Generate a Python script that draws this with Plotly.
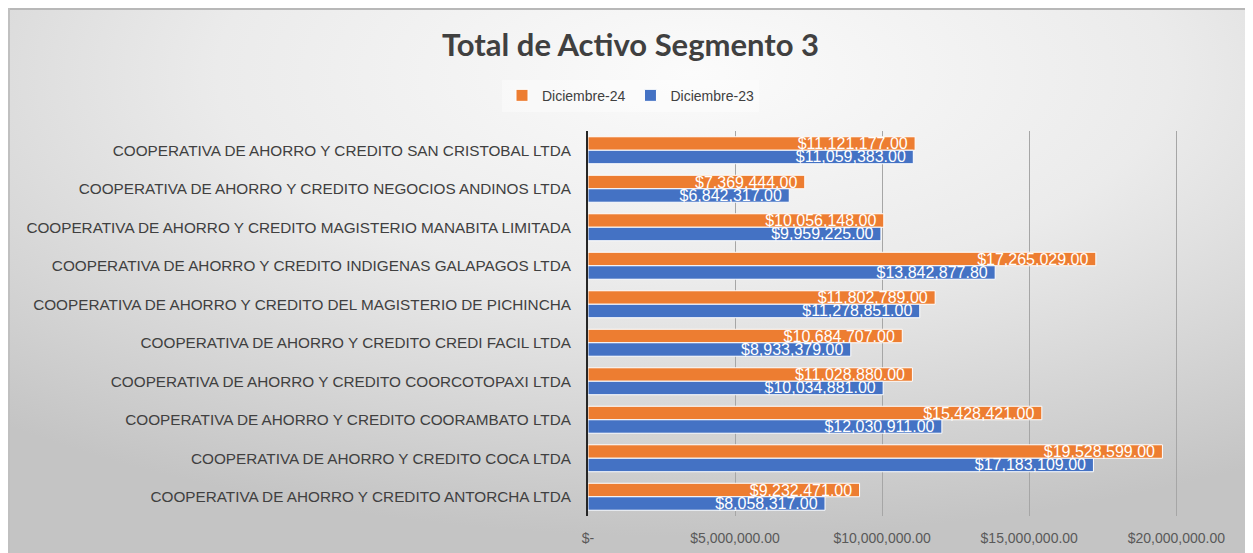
import base64
import plotly.graph_objects as go

categories = [
    "COOPERATIVA DE AHORRO Y CREDITO SAN CRISTOBAL LTDA",
    "COOPERATIVA DE AHORRO Y CREDITO NEGOCIOS ANDINOS LTDA",
    "COOPERATIVA DE AHORRO Y CREDITO MAGISTERIO MANABITA LIMITADA",
    "COOPERATIVA DE AHORRO Y CREDITO INDIGENAS GALAPAGOS LTDA",
    "COOPERATIVA DE AHORRO Y CREDITO DEL MAGISTERIO DE PICHINCHA",
    "COOPERATIVA DE AHORRO Y CREDITO CREDI FACIL LTDA",
    "COOPERATIVA DE AHORRO Y CREDITO COORCOTOPAXI LTDA",
    "COOPERATIVA DE AHORRO Y CREDITO COORAMBATO LTDA",
    "COOPERATIVA DE AHORRO Y CREDITO COCA LTDA",
    "COOPERATIVA DE AHORRO Y CREDITO ANTORCHA LTDA",
]
dic24 = [11121177.00, 7369444.00, 10056148.00, 17265029.00, 11802789.00,
         10684707.00, 11028880.00, 15428421.00, 19528599.00, 9232471.00]
dic23 = [11059383.00, 6842317.00, 9959225.00, 13842877.80, 11278851.00,
         8933379.00, 10034881.00, 12030911.00, 17183109.00, 8058317.00]
tick_vals = [0, 5000000, 10000000, 15000000, 20000000]
tick_text = ["$-", "$5,000,000.00", "$10,000,000.00", "$15,000,000.00", "$20,000,000.00"]

W, H = 1245, 545
ML, MR, MT, MB = 580, 12, 123, 37
pw, ph = W - ML - MR, H - MT - MB


def fmt(v):
    return "${:,.2f}".format(v)


fig = go.Figure()
for name, vals, color in [("Diciembre-24", dic24, "#ED7D31"), ("Diciembre-23", dic23, "#4472C4")]:
    fig.add_trace(go.Bar(
        y=categories, x=vals, name=name, orientation="h",
        marker=dict(color=color, line=dict(color="#ffffff", width=1)),
        text=[fmt(v) for v in vals], texttemplate="%{text}\u00a0",
        textposition="inside", insidetextanchor="end",
        constraintext="none",
        textfont=dict(color="#ffffff", size=16, family="Liberation Sans, Arial, sans-serif"),
    ))

svg = ('<svg xmlns="http://www.w3.org/2000/svg" width="1245" height="545" viewBox="0 0 1245 545" '
       'preserveAspectRatio="none"><defs><radialGradient id="g" cx="0.55" cy="0.12" r="0.85">'
       '<stop offset="0" stop-color="#fbfbfb"/><stop offset="0.45" stop-color="#ebebeb"/>'
       '<stop offset="1" stop-color="#c4c4c4"/></radialGradient></defs>'
       '<rect width="1245" height="545" fill="url(#g)"/>'
       '<line x1="0" y1="1" x2="1245" y2="1" stroke="#b8b8b8" stroke-width="2"/>'
       '<line x1="1" y1="0" x2="1" y2="545" stroke="#c0c0c0" stroke-width="2"/></svg>')
src = "data:image/svg+xml;base64," + base64.b64encode(svg.encode()).decode()

fig.add_layout_image(dict(
    source=src, xref="paper", yref="paper", x=-ML / pw, y=(H - MB) / ph,
    sizex=W / pw, sizey=H / ph,
    xanchor="left", yanchor="top", sizing="stretch", layer="below",
))

fig.update_layout(
    width=W, height=H,
    margin=dict(l=ML, r=MR, t=MT, b=MB, pad=0, autoexpand=False),
    paper_bgcolor="#ffffff", plot_bgcolor="rgba(0,0,0,0)",
    barmode="group", bargap=0.3, bargroupgap=0,
    uniformtext=dict(minsize=16, mode="show"),
    font=dict(family="Liberation Sans, Arial, sans-serif", color="#404040"),
    title=dict(text="<b>Total de Activo Segmento 3</b>", xref="container", x=0.5, xanchor="center",
               yref="container", y=0.932, yanchor="middle",
               font=dict(size=31, family="Lato, Open Sans, sans-serif", color="#404040")),
    legend=dict(orientation="h", xref="container", x=0.5, xanchor="center",
                yref="container", y=0.839, yanchor="middle",
                bgcolor="rgba(255,255,255,0.4)",
                font=dict(size=14, color="#404040"), itemwidth=30, traceorder="normal"),
    showlegend=True,
)
fig.update_xaxes(range=[0, 22200000], tickvals=tick_vals, ticktext=tick_text,
                 showgrid=True, gridcolor="#a6a6a6", gridwidth=1, zeroline=False,
                 showline=False, ticks="", ticklabelstandoff=12, automargin=False,
                 tickfont=dict(size=14, color="#595959"))
fig.update_yaxes(autorange="reversed", showline=True, linecolor="#262626", linewidth=2,
                 ticks="", ticklabelstandoff=12, showgrid=False, automargin=False,
                 tickfont=dict(size=15.3, color="#404040"))

fig.write_html("out.html")
